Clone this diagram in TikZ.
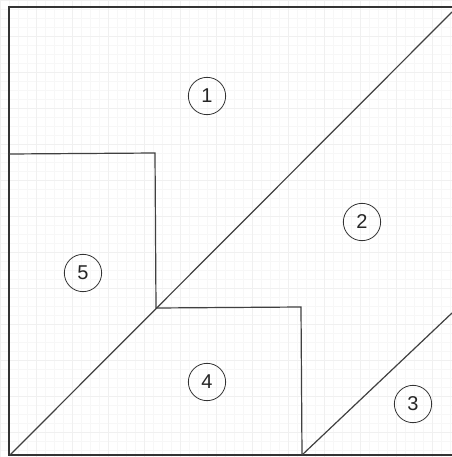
\documentclass[tikz,border=0pt]{standalone}
\usepackage{fontspec}
\setsansfont{Liberation Sans}
\begin{document}
\begin{tikzpicture}[x=0.75pt,y=-0.75pt,
  edge/.style={line width=0.9pt, draw=black!75},
  frame/.style={line width=1.3pt, draw=black!80},
  minorgrid/.style={draw=black!3, line width=0.3pt},
  majorgrid/.style={draw=black!6, line width=0.4pt},
  num/.style={circle, draw=black!80, line width=0.6pt, minimum size=28pt, inner sep=0pt, font=\fontsize{15}{15}\selectfont\sffamily, text=black!85}]
\useasboundingbox (0,0) rectangle (452,457);
\fill[white] (0,0) rectangle (452,457);
\foreach \g in {0,9,...,452} {
  \draw[minorgrid] (\g,0) -- (\g,457);
  \draw[minorgrid] (0,\g) -- (452,\g);
}
\foreach \g in {0,36,...,452} {
  \draw[majorgrid] (\g,0) -- (\g,457);
  \draw[majorgrid] (0,\g) -- (452,\g);
}
% frame corners
\coordinate (tl) at (9,7);
\coordinate (tr) at (452,7);
\coordinate (bl) at (9,455);
\coordinate (br) at (452,455);
\draw[frame] (tr) -- (tl) -- (bl) -- (br);
% diagonals
\coordinate (d1a) at (10,455);
\coordinate (d1b) at (452,12);
\draw[edge] (d1a) -- (d1b);
\coordinate (d2a) at (302,455);
\coordinate (d2b) at (452,313);
\draw[edge] (d2a) -- (d2b);
% steps
\coordinate (s1) at (9,154);
\coordinate (s2) at (155,153);
\coordinate (s3) at (156,308);
\coordinate (s4) at (301,307);
\coordinate (s5) at (302,455);
\draw[edge] (s1) -- (s2) -- (s3) -- (s4) -- (s5);
% labels
\node[num] (n1) at (207,96) {1};
\node[num] (n2) at (362,222) {2};
\node[num] (n3) at (413,404) {3};
\node[num] (n4) at (207,382) {4};
\node[num] (n5) at (83,273) {5};
\end{tikzpicture}
\end{document}
